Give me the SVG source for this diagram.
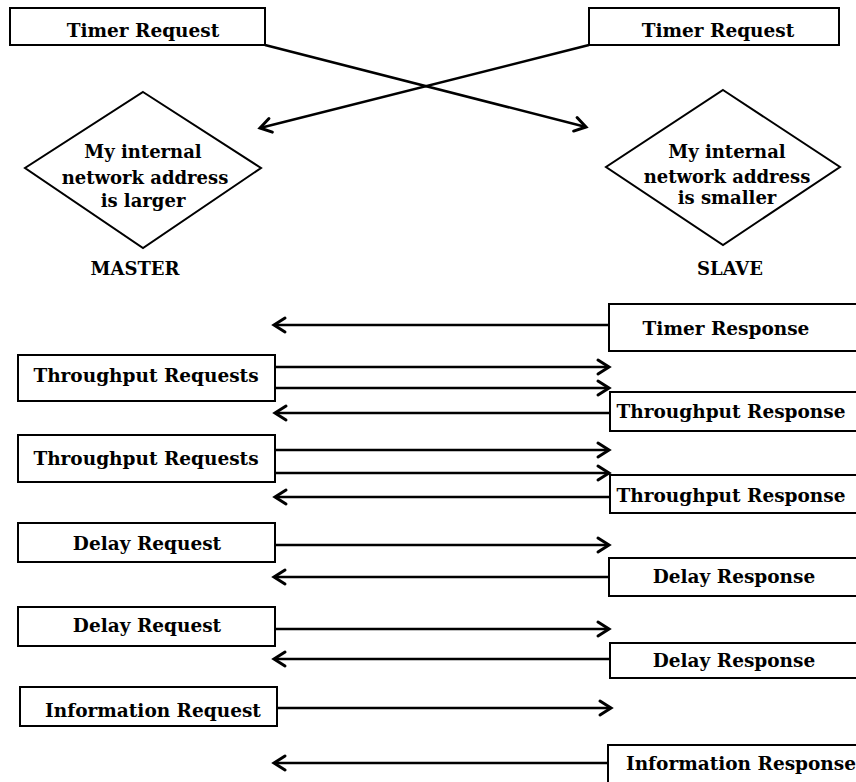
<svg xmlns="http://www.w3.org/2000/svg" width="856" height="782" viewBox="0 0 856 782">
<defs>
<style>
.box{fill:#fff;stroke:#000;stroke-width:2}
.t{font-family:"DejaVu Serif","Liberation Serif",serif;font-weight:bold;font-size:18.5px;fill:#000;text-anchor:middle}
.d{font-size:18px}
.c{stroke:#000;stroke-width:2.5;fill:none;marker-end:url(#arr)}
</style>
<marker id="arr" markerUnits="userSpaceOnUse" markerWidth="16" markerHeight="18" viewBox="-13 -9 16 18" refX="0" refY="0" orient="auto" overflow="visible">
<path d="M-11,-7 L0,0 L-11,7" fill="none" stroke="#000" stroke-width="3" stroke-linejoin="miter" stroke-linecap="round"/>
</marker>
</defs>
<rect width="856" height="782" fill="#fff"/>
<g id="connectors">
<line class="c" x1="265" y1="45" x2="586" y2="127"/>
<line class="c" x1="589" y1="45" x2="260" y2="128"/>
<line class="c" x1="609" y1="325" x2="274" y2="325"/>
<line class="c" x1="275" y1="367" x2="609" y2="367"/>
<line class="c" x1="275" y1="388" x2="609" y2="388"/>
<line class="c" x1="610" y1="413" x2="275" y2="413"/>
<line class="c" x1="275" y1="450" x2="609" y2="450"/>
<line class="c" x1="275" y1="473" x2="609" y2="473"/>
<line class="c" x1="610" y1="497" x2="275" y2="497"/>
<line class="c" x1="275" y1="545" x2="609" y2="545"/>
<line class="c" x1="609" y1="577" x2="274" y2="577"/>
<line class="c" x1="275" y1="629" x2="609" y2="629"/>
<line class="c" x1="610" y1="659" x2="274" y2="659"/>
<line class="c" x1="277" y1="708" x2="611" y2="708"/>
<line class="c" x1="608" y1="763" x2="274" y2="763"/>
</g>
<g id="timer-request-master">
<rect class="box" x="10" y="8" width="255" height="37"/>
<text class="t" x="143" y="37">Timer Request</text>
</g>
<g id="timer-request-slave">
<rect class="box" x="589" y="8" width="250" height="37"/>
<text class="t" x="718" y="37">Timer Request</text>
</g>
<g id="decision-master">
<polygon class="box" points="143,92 261,168 143,248 25,168"/>
<text class="t d" x="143" y="158">My internal</text>
<text class="t d" x="145" y="184">network address</text>
<text class="t d" x="143" y="207">is larger</text>
</g>
<g id="decision-slave">
<polygon class="box" points="723,90 840,167 723,245 606,167"/>
<text class="t d" x="727" y="158">My internal</text>
<text class="t d" x="727" y="183">network address</text>
<text class="t d" x="727" y="204">is smaller</text>
</g>
<g id="master-label"><text class="t d" x="135" y="275">MASTER</text></g>
<g id="slave-label"><text class="t d" x="730" y="275">SLAVE</text></g>
<g id="timer-response">
<rect class="box" x="609" y="304" width="260" height="47"/>
<text class="t" x="726" y="335">Timer Response</text>
</g>
<g id="throughput-requests-1">
<rect class="box" x="18" y="355" width="257" height="46"/>
<text class="t" x="146" y="382">Throughput Requests</text>
</g>
<g id="throughput-response-1">
<rect class="box" x="610" y="392" width="260" height="39"/>
<text class="t" x="731" y="418">Throughput Response</text>
</g>
<g id="throughput-requests-2">
<rect class="box" x="18" y="435" width="257" height="47"/>
<text class="t" x="146" y="465">Throughput Requests</text>
</g>
<g id="throughput-response-2">
<rect class="box" x="610" y="475" width="260" height="38"/>
<text class="t" x="731" y="502">Throughput Response</text>
</g>
<g id="delay-request-1">
<rect class="box" x="18" y="523" width="257" height="39"/>
<text class="t" x="147" y="550">Delay Request</text>
</g>
<g id="delay-response-1">
<rect class="box" x="609" y="558" width="260" height="38"/>
<text class="t" x="734" y="583">Delay Response</text>
</g>
<g id="delay-request-2">
<rect class="box" x="18" y="607" width="257" height="39"/>
<text class="t" x="147" y="632">Delay Request</text>
</g>
<g id="delay-response-2">
<rect class="box" x="610" y="643" width="260" height="35"/>
<text class="t" x="734" y="667">Delay Response</text>
</g>
<g id="information-request">
<rect class="box" x="20" y="687" width="257" height="39"/>
<text class="t" x="153" y="717">Information Request</text>
</g>
<g id="information-response">
<rect class="box" x="608" y="745" width="260" height="50"/>
<text class="t" x="741" y="770">Information Response</text>
</g>
</svg>
